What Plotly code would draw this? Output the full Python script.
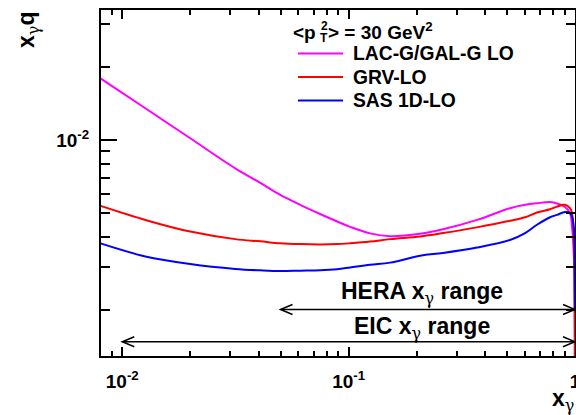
import plotly.graph_objects as go

# x_gamma grid and x_gamma * q(x_gamma) for the three photon PDF sets at <pT^2> = 30 GeV^2
x_gamma = [0.008, 0.01264, 0.01996, 0.03155, 0.0407, 0.0499, 0.0611, 0.0748, 0.0889,
           0.1016, 0.1244, 0.1525, 0.2069, 0.2612, 0.369, 0.5164, 0.602, 0.679, 0.776,
           0.833, 0.903, 0.950, 0.970, 0.990, 0.997, 0.9995]

lac_g = [0.0179, 0.01349, 0.01016, 0.00765, 0.00667, 0.00595, 0.00542, 0.00497, 0.00463,
         0.00440, 0.00414, 0.00403, 0.00412, 0.00430, 0.00470, 0.00525, 0.00542, 0.00550,
         0.00556, 0.00549, 0.00531, 0.00502, 0.00441, 0.00322, 0.0020, 0.0015]

grv = [0.00537, 0.00470, 0.00421, 0.00392, 0.00384, 0.00377, 0.00374, 0.00373, 0.00374,
       0.00377, 0.00383, 0.00392, 0.00402, 0.00415, 0.00438, 0.00466, 0.00482, 0.00504,
       0.00520, 0.00533, 0.00542, 0.00525, 0.00501, 0.0039, 0.0018, 0.0002]

sas = [0.00377, 0.00333, 0.00310, 0.00296, 0.00292, 0.00290, 0.00291, 0.00292, 0.00295,
       0.00300, 0.00308, 0.00314, 0.00335, 0.00344, 0.00362, 0.00389, 0.00415, 0.00449,
       0.00482, 0.00493, 0.00506, 0.00501, 0.00485, 0.00428, 0.0030, 0.0020]

series_names = ["LAC-G/GAL-G LO", "GRV-LO", "SAS 1D-LO"]
series_values = [lac_g, grv, sas]
series_colors = ["#ff00ff", "#ff0000", "#0000ff"]

# kinematic reach in x_gamma
hera_range = [0.05, 1.0]
eic_range = [0.01, 1.0]

x_tick_vals = [0.01, 0.1, 1]
x_tick_text = ["10<sup>-2</sup>", "10<sup>-1</sup>", "1"]
y_tick_vals = [0.001, 0.01, 0.1]
y_tick_text = ["10<sup>-3</sup>", "10<sup>-2</sup>", "10<sup>-1</sup>"]
minor_vals = [m * 10.0 ** e for e in range(-4, 1) for m in range(2, 10)]

FONT = "Liberation Sans"
GAMMA = "<span style='font-family:DejaVu Serif;font-weight:normal'>γ</span>"
W, H = 576, 415
L, R, T, B = 101, 1, 10, 59
PW, PH = W - L - R, H - T - B


def px_x(p):
    """pixel column -> paper x"""
    return (p - L) / PW


def px_y(p):
    """pixel row -> paper y"""
    return (H - B - p) / PH


fig = go.Figure()
for name, vals, col in zip(series_names, series_values, series_colors):
    fig.add_trace(go.Scatter(
        x=x_gamma, y=vals, mode="lines", name=name, showlegend=False,
        line=dict(color=col, width=2, shape="spline", smoothing=1.0),
    ))

axis_common = dict(
    type="log", showgrid=False, zeroline=False, showline=True, linecolor="black",
    linewidth=2, mirror="ticks", ticks="inside", tickcolor="black", tickwidth=1.5,
    tickfont=dict(family=FONT, size=19, color="black", weight="bold"),
    ticklabeloverflow="allow", automargin=False,
)

fig.update_xaxes(
    **axis_common, range=[-2.094, 0.0], tickvals=x_tick_vals, ticktext=x_tick_text,
    ticklen=9, ticklabelstandoff=7,
    minor=dict(tickvals=minor_vals, ticks="inside", ticklen=5, tickcolor="black", tickwidth=1.5),
)
fig.update_yaxes(
    **axis_common, range=[-2.886, -1.467], tickvals=y_tick_vals, ticktext=y_tick_text,
    ticklen=16, ticklabelstandoff=6,
    minor=dict(tickvals=minor_vals, ticks="inside", ticklen=9, tickcolor="black", tickwidth=1.5),
)

annotations = []
shapes = []

# axis titles
title_font = dict(family=FONT, size=23, color="black", weight="bold")
annotations.append(dict(text=f"x<sub>{GAMMA}</sub>q", xref="paper", yref="paper",
                        x=px_x(28), y=px_y(30), xanchor="center", yanchor="middle",
                        textangle=-90, showarrow=False, font=title_font))
annotations.append(dict(text=f"x<sub>{GAMMA}</sub>", xref="paper", yref="paper",
                        x=px_x(563), y=px_y(400), xanchor="center", yanchor="middle",
                        showarrow=False, font=title_font))

# legend header: <p_T^2> = 30 GeV^2 (sub- and superscript stacked on the p)
hdr_font = dict(family=FONT, size=19, color="black", weight="bold")
small_font = dict(family=FONT, size=12, color="black", weight="bold")
annotations.append(dict(text="&lt;p", xref="paper", yref="paper", x=px_x(318), y=px_y(32),
                        xanchor="right", yanchor="middle", showarrow=False, font=hdr_font))
annotations.append(dict(text="2", xref="paper", yref="paper", x=px_x(318.5), y=px_y(25.5),
                        xanchor="left", yanchor="middle", showarrow=False, font=small_font))
annotations.append(dict(text="T", xref="paper", yref="paper", x=px_x(318), y=px_y(37.5),
                        xanchor="left", yanchor="middle", showarrow=False, font=small_font))
annotations.append(dict(text="&gt; = 30 GeV<sup>2</sup>", xref="paper", yref="paper",
                        x=px_x(325.5), y=px_y(31), xanchor="left", yanchor="middle",
                        showarrow=False, font=hdr_font))

# legend entries
leg_font = dict(family=FONT, size=19.3, color="black", weight="bold")
for i, (name, col) in enumerate(zip(series_names, series_colors)):
    yc = px_y(53.5 + 23.5 * i)
    shapes.append(dict(type="line", xref="paper", yref="paper", x0=px_x(298), x1=px_x(343),
                       y0=yc, y1=yc, line=dict(color=col, width=2)))
    annotations.append(dict(text=name, xref="paper", yref="paper", x=px_x(351), y=yc,
                            xanchor="left", yanchor="middle", showarrow=False, font=leg_font))

# x_gamma reach arrows
rng_font = dict(family=FONT, size=23, color="black", weight="bold")
for label, (lo, hi), y_arrow, y_text in [("HERA", hera_range, 309.5, 292.5),
                                         ("EIC", eic_range, 341.7, 327.5)]:
    ya = px_y(y_arrow)
    shapes.append(dict(type="line", xref="x", yref="paper", x0=lo, x1=hi, y0=ya, y1=ya,
                       line=dict(color="black", width=1.5)))
    for tip, sgn in [(lo, 1), (hi, -1)]:
        shapes.append(dict(type="path", xref="x", yref="paper", xsizemode="pixel",
                           ysizemode="pixel", xanchor=tip, yanchor=ya,
                           path=f"M {12 * sgn},5 L 0,0 L {12 * sgn},-5",
                           line=dict(color="black", width=1.5)))
    annotations.append(dict(text=f"{label} x<sub>{GAMMA}</sub> range", xref="paper",
                            yref="paper", x=px_x(422), y=px_y(y_text), xanchor="center",
                            yanchor="middle", showarrow=False, font=rng_font))

fig.update_layout(
    width=W, height=H, margin=dict(l=L, r=R, t=T, b=B, autoexpand=False),
    plot_bgcolor="white", paper_bgcolor="white",
    annotations=annotations, shapes=shapes, showlegend=False,
)

fig.write_html("out.html")
